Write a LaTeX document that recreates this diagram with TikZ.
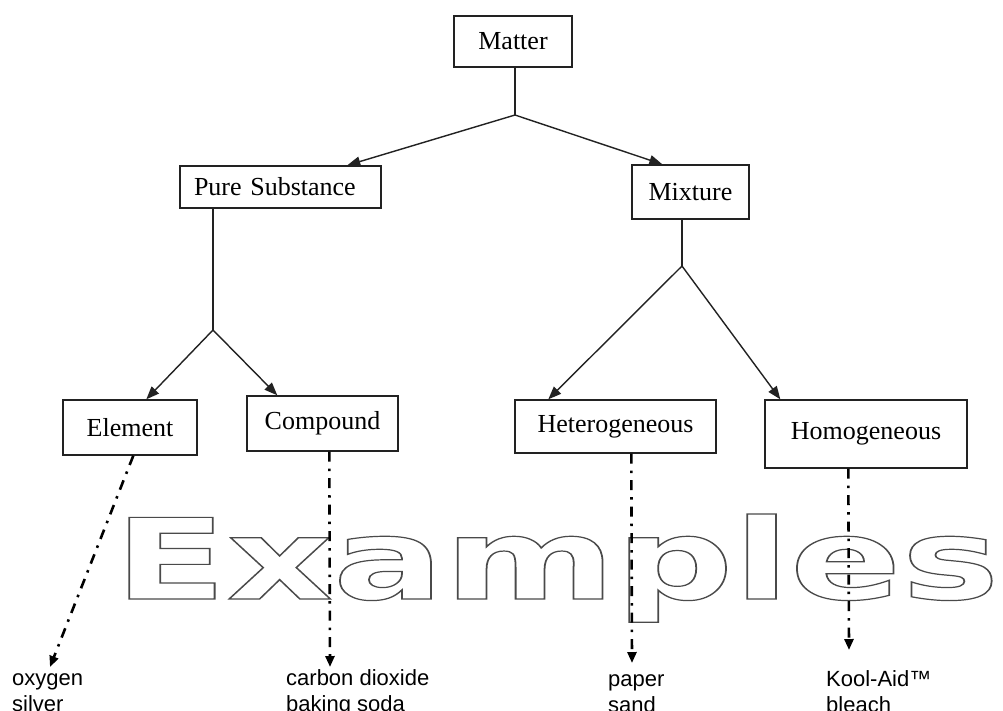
\documentclass[tikz,border=0pt]{standalone}
\usepackage{fontspec}
\usepackage{graphicx}
\setmainfont{Liberation Serif}
\newfontfamily\lblfont{Liberation Sans}
\newfontfamily\exfont{DejaVu Sans}
\usetikzlibrary{arrows.meta,calc}
\definecolor{ink}{HTML}{222222}
\definecolor{exgray}{HTML}{4a4a4a}
\tikzset{
  box/.style={draw=ink, line width=1.4pt, inner sep=0pt, font=\fontsize{26}{29}\selectfont, text=black},
  conn/.style={draw=ink, line width=1.4pt},
  arr/.style={conn, -{Triangle[length=13pt,width=10pt]}},
  dd/.style={draw=black, line width=2.6pt, dash pattern=on 10pt off 7pt on 2.5pt off 7pt, -{Triangle[length=11pt,width=9pt]}},
  ex/.style={inner sep=0pt, anchor=north west, align=left, font=\lblfont\fontsize{22}{26}\selectfont, text=black},
}
\begin{document}
\begin{tikzpicture}[x=1pt,y=-1pt]
\useasboundingbox[fill=white] (0,0) rectangle (1003,710);

% big outlined word
\node[inner sep=0pt, anchor=base west, text=exgray] (word) at (114,599)
  {\scalebox{1.47}[1]{\exfont\bfseries\fontsize{112}{120}\selectfont\special{pdf:literal direct 1 Tr 1.2 w}Examples\special{pdf:literal direct 0 Tr}}};

% boxes
\node[box, minimum width=118pt, minimum height=51pt] (m) at (513,41.5) {Matter};
\node[box, minimum width=201pt, minimum height=42pt, text width=173pt, align=left] (ps) at (280.5,187) {Pure Substance};
\node[box, minimum width=117pt, minimum height=54pt] (mx) at (690.5,192) {Mixture};
\node[box, minimum width=134pt, minimum height=55pt] (el) at (130,427.5) {Element};
\node[box, minimum width=151pt, minimum height=55pt] (cp) at (322.5,423.5) {Compound};
\node[box, minimum width=201pt, minimum height=53pt] (het) at (615.5,426.5) {Heterogeneous};
\node[box, minimum width=202pt, minimum height=68pt] (hom) at (866,434) {Homogeneous};

% junctions
\coordinate (j0) at (515,115);
\coordinate (j1) at (213,330);
\coordinate (j2) at (682,266);

\draw[conn] (m.south -| j0) -- (j0);
\draw[arr] (j0) -- ($(ps.north west)+(168,0)$);
\draw[arr] (j0) -- ($(mx.north west)+(31,0)$);
\draw[conn] (ps.south -| j1) -- (j1);
\draw[arr] (j1) -- ($(el.north west)+(84,0)$);
\draw[arr] (j1) -- ($(cp.north west)+(31,0)$);
\draw[conn] (mx.south -| j2) -- (j2);
\draw[arr] (j2) -- ($(het.north west)+(34,0)$);
\draw[arr] (j2) -- ($(hom.north west)+(16,0)$);

% example labels
\node[ex] (ox) at (12,667) {\strut oxygen\\\strut silver};
\node[ex] (cbd) at (286,667) {\strut carbon dioxide\\\strut baking soda};
\node[ex] (pap) at (608,668) {\strut paper\\\strut sand};
\node[ex] (ka) at (826,668) {\strut Kool-Aid™\\\strut bleach};

% dash-dot arrows
\draw[dd] ($(el.south west)+(71,0)$) -- ($(ox.north west)+(38,0)$);
\draw[dd] ($(cp.south west)+(83,0)$) -- ($(cbd.north west)+(44,0)$);
\draw[dd] ($(het.south west)+(117,0)$) -- ($(pap.north west)+(24,-5)$);
\draw[dd] ($(hom.south west)+(84,0)$) -- ($(ka.north west)+(23,-18)$);
\end{tikzpicture}
\end{document}
